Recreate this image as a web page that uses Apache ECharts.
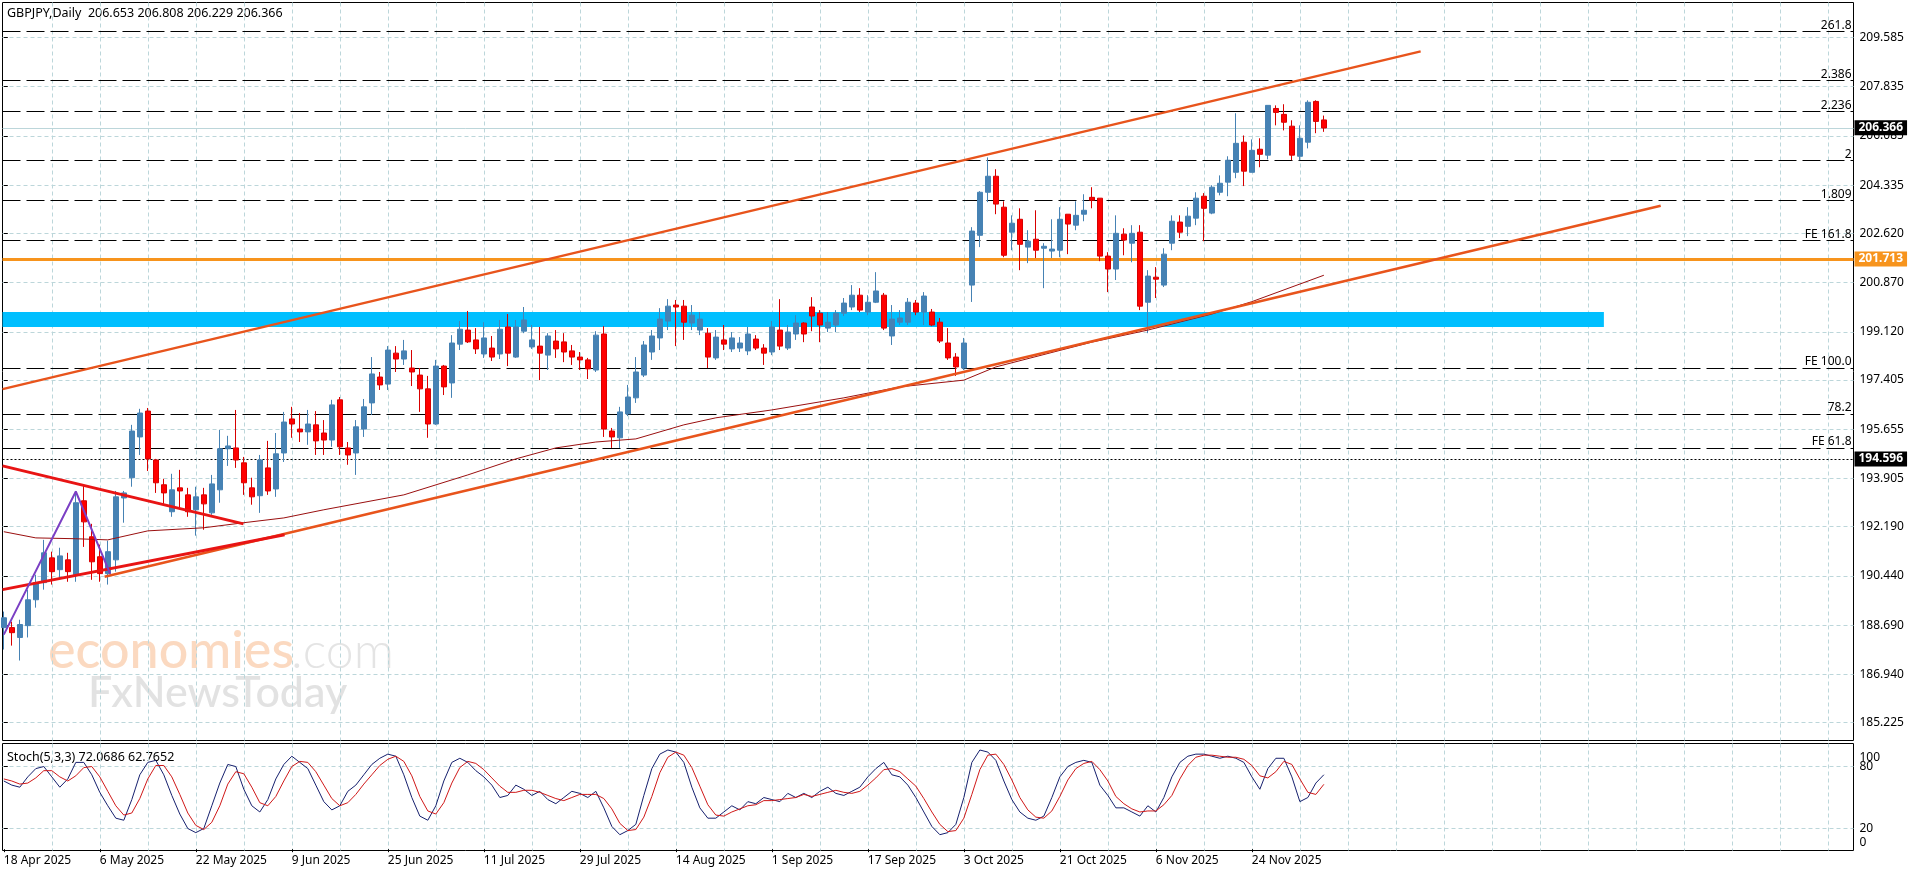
<!doctype html>
<html lang="en">
<head>
    <meta charset="UTF-8">
    <title>GBPJPY,Daily</title>
    <script src="https://cdn.jsdelivr.net/npm/echarts@6/dist/echarts.min.js"></script>
    <style>
        html, body { margin: 0; padding: 0; background: #fff; }
        #chart { width: 1916px; height: 874px; }
    </style>
</head>
<body>
<div id="chart"></div>
<script>
    // bar labels on the time axis, one every 12 bars
    var tickLabels = ['18 Apr 2025', '6 May 2025', '22 May 2025', '9 Jun 2025', '25 Jun 2025', '11 Jul 2025', '29 Jul 2025',
        '14 Aug 2025', '1 Sep 2025', '17 Sep 2025', '3 Oct 2025', '21 Oct 2025', '6 Nov 2025', '24 Nov 2025'];
    var labelBars = [0, 12, 24, 36, 48, 60, 72, 84, 96, 108, 120, 132, 144, 156];
    var gridBars = [6, 12, 18, 24, 30, 36, 42, 48, 54, 60, 66, 72, 78, 84, 90, 96, 102, 108, 114, 120, 126, 132, 138, 144, 150,
        156, 162, 168, 174, 180, 186, 192, 198, 204, 210, 216, 222, 228];

    var priceTicks = [209.585, 207.835, 206.085, 204.335, 202.620, 200.870, 199.120, 197.405, 195.655, 193.905, 192.190, 190.440,
        188.690, 186.940, 185.225];

    var opens = [188.60,188.60,188.25,188.67,189.59,190.20,191.08,190.66,191.01,190.48,
        193.11,191.83,191.12,190.52,191.01,193.21,193.93,195.38,196.30,194.56,
        193.68,192.72,193.57,193.32,192.79,193.32,192.68,193.50,194.96,194.99,
        194.46,193.57,193.29,194.28,193.53,194.81,196.02,195.66,195.56,195.81,
        195.52,195.27,196.70,194.99,194.81,195.66,196.59,197.51,197.26,198.36,
        198.15,197.83,197.58,197.09,195.84,197.90,197.30,198.68,199.18,198.83,
        198.33,198.54,198.33,199.29,198.22,199.14,198.58,198.61,198.29,198.79,
        198.76,198.44,198.22,198.12,197.76,199.04,195.59,195.35,196.20,196.77,
        197.58,198.40,198.90,199.50,200.07,200.03,199.43,199.18,199.07,198.19,
        198.83,198.51,198.54,198.44,198.86,198.54,198.40,199.18,198.54,199.04,
        199.43,200.00,199.78,199.25,199.36,199.78,200.00,200.42,199.82,200.17,
        200.42,198.97,199.46,199.46,200.14,199.82,199.82,199.46,198.72,198.22,
        197.83,200.78,202.55,204.08,204.65,203.55,202.66,203.12,202.13,202.41,
        202.09,201.99,202.02,203.30,202.91,203.30,203.90,203.87,201.81,201.35,
        202.59,202.27,202.66,200.17,201.06,200.78,202.27,203.02,202.87,203.16,
        203.94,203.34,204.08,204.44,204.79,205.86,204.79,205.61,205.40,207.06,
        206.85,206.43,205.36,205.86,207.31,206.653];
    var closes = [188.95,188.42,188.71,189.59,190.20,191.26,190.59,191.15,190.59,193.04,
        192.36,190.94,190.52,191.30,193.25,193.39,195.59,196.23,194.60,193.75,
        193.39,193.50,193.46,192.72,193.25,193.00,193.71,194.96,195.06,194.56,
        193.75,193.25,194.56,193.46,194.78,195.91,195.84,195.56,195.84,195.24,
        195.27,196.52,195.03,194.74,195.74,196.45,197.62,197.23,198.47,198.15,
        198.44,197.69,197.09,195.84,197.90,197.16,198.72,199.21,198.76,198.51,
        198.90,198.22,199.21,198.36,199.29,199.54,198.83,198.36,198.97,198.51,
        198.40,198.22,198.12,197.80,199.00,195.66,195.38,196.27,196.80,197.69,
        198.65,198.97,199.57,200.03,200.00,199.46,199.71,199.57,198.22,198.93,
        198.68,198.90,198.72,199.04,198.54,198.36,199.29,198.61,199.11,199.43,
        199.04,199.68,199.36,199.46,199.78,200.14,200.42,199.89,200.17,200.57,
        199.25,199.57,199.61,200.17,199.82,200.39,199.36,198.79,198.19,197.87,
        198.72,202.70,204.08,204.65,203.66,201.84,202.98,202.23,202.34,202.02,
        202.16,202.06,203.12,202.95,203.26,203.44,203.80,201.81,201.35,202.62,
        202.38,202.62,200.03,201.10,200.99,201.88,203.05,202.66,203.23,203.87,
        203.51,204.26,204.40,205.22,205.82,204.83,205.57,205.43,207.17,206.92,
        206.57,205.40,206.00,207.28,206.60,206.366];
    var lows = [187.82,187.96,187.43,188.25,189.31,189.95,190.13,190.37,190.23,190.23,
        191.47,190.30,190.23,190.13,190.59,192.33,193.61,194.74,194.17,193.39,
        192.97,192.54,192.86,192.54,191.87,192.08,192.61,193.04,194.35,194.28,
        193.32,192.97,192.68,193.32,193.25,194.49,195.35,195.20,195.10,194.74,
        194.74,195.03,194.74,194.39,194.03,195.38,196.16,197.05,197.05,197.69,
        197.94,197.19,196.27,195.35,195.81,196.87,196.77,198.47,198.72,198.33,
        198.19,198.08,198.15,197.90,198.19,199.07,198.51,197.40,197.76,198.19,
        198.04,197.94,197.76,197.44,197.69,195.38,194.99,194.99,196.12,196.59,
        197.51,198.12,198.47,199.18,198.61,198.83,199.18,199.00,197.83,198.12,
        198.47,198.40,198.40,198.29,198.47,197.94,198.29,198.47,198.47,198.83,
        198.75,199.14,198.75,199.11,199.11,199.68,199.89,199.82,199.71,200.14,
        199.18,198.65,199.36,199.36,199.71,199.36,199.32,198.72,198.12,197.55,
        197.76,200.18,202.13,203.73,203.30,201.77,202.02,201.31,201.56,201.74,
        200.67,201.74,201.77,201.88,202.73,203.05,203.51,201.63,200.53,200.96,
        201.84,201.59,199.89,199.07,200.32,200.71,202.02,202.45,202.52,202.91,
        202.34,203.30,203.97,203.94,204.58,204.30,204.79,204.97,205.25,206.46,
        206.28,205.22,205.22,205.64,206.18,206.229];
    var highs = [189.17,188.81,188.88,189.95,190.48,191.72,191.30,191.44,191.26,193.46,
        193.64,192.29,191.55,191.69,193.46,193.46,195.81,196.38,196.41,194.60,
        193.89,194.07,194.21,193.57,193.61,193.57,194.03,195.63,195.42,196.34,
        194.67,193.93,194.74,195.24,195.52,196.27,196.45,196.23,196.34,196.30,
        195.98,196.70,196.80,195.20,195.98,196.73,198.22,197.69,198.61,198.61,
        198.83,198.47,197.83,197.55,198.12,197.94,199.00,199.50,199.86,199.25,
        199.46,198.97,199.54,199.75,199.54,200.00,199.36,199.29,199.07,199.18,
        199.07,198.65,198.40,198.19,199.14,199.32,195.70,196.45,197.23,198.22,
        198.79,199.18,199.96,200.28,200.25,200.25,200.07,199.82,199.25,199.18,
        199.36,199.11,198.93,199.29,199.00,198.68,199.50,200.28,199.36,199.71,
        199.46,200.35,199.89,199.82,199.89,200.32,200.78,200.67,200.42,201.24,
        200.50,200.07,199.89,200.32,200.25,200.53,199.93,199.61,199.25,198.36,
        198.90,202.84,204.12,205.32,204.90,203.76,203.26,203.51,202.73,203.44,
        202.27,203.12,203.55,203.30,203.76,204.01,204.26,203.87,201.95,203.26,
        202.80,202.91,202.91,201.31,201.42,202.09,203.26,203.26,203.55,204.08,
        204.05,204.33,204.68,205.36,206.89,206.10,205.96,206.00,207.17,207.17,
        207.21,206.64,206.46,207.35,207.35,206.808];

    // moving average, read at a few bars along the curve
    var maBars = [0,4,9,13,18,25,30,35,40,50,58,64,69,74,79,85,89,96,105,112,120,124,136,143,151,156,165];
    var maValues = [192.01,191.79,191.76,191.72,192.04,192.15,192.33,192.50,192.79,193.32,194.03,194.60,194.99,195.20,195.31,
        195.81,196.06,196.34,196.77,197.16,197.40,197.87,198.75,199.18,199.75,200.19,201.13];

    var stochMain = [66,62,60,70,78,80,70,60,68,84,84,72,55,42,30,28,48,72,84,86,
        72,52,34,20,16,20,42,64,82,80,58,42,36,48,68,82,90,84,78,62,
        46,38,42,56,62,72,82,88,92,90,72,50,32,28,42,66,84,88,84,76,
        70,62,50,52,62,58,52,56,48,44,50,56,54,50,56,40,22,14,18,24,
        52,78,92,96,94,84,60,40,30,30,36,42,38,46,44,50,48,46,54,50,
        54,50,56,60,54,52,56,60,70,78,84,72,70,62,50,36,22,14,16,24,
        50,84,96,94,86,66,48,36,30,28,32,50,70,80,84,86,84,62,52,40,
        40,36,32,42,36,50,70,84,90,92,92,90,88,90,88,84,70,58,78,88,
        88,70,46,50,64,72.0686];
    var stochSignal = [68,66,63,64,69,76,76,70,66,71,79,80,70,56,42,33,35,49,68,81,
        81,70,53,35,23,19,26,42,63,75,73,60,45,42,51,66,80,85,84,75,
        62,49,42,45,53,63,72,81,87,90,85,71,51,37,34,45,64,79,85,83,
        77,69,61,55,55,57,57,55,52,49,47,50,53,53,53,49,39,25,18,19,
        31,51,74,89,94,91,79,61,43,33,32,36,39,42,43,47,47,48,49,50,
        53,51,53,55,57,55,54,56,62,69,77,78,75,68,61,49,36,24,17,18,
        30,53,77,91,92,82,67,50,38,31,30,37,51,67,78,83,85,77,66,51,
        44,39,36,37,37,43,52,68,81,89,91,91,90,89,89,87,81,71,69,75,
        85,82,68,55,53,62.7652];
    var stochEnds = [100, 0];
    var stochLevels = [80, 20];

    // fibonacci levels
    var levelPrices = [209.80, 208.06, 206.96, 205.22, 203.80, 202.38, 197.83, 196.20, 194.99];
    var levelNames = ['261.8', '2.386', '2.236', '2', '1.809', 'FE 161.8', 'FE 100.0', '78.2', 'FE 61.8'];

    var lastPrice = 206.366;
    var supportPrice = 201.713;
    var dottedPrice = 194.596;

    var bandBars = [-0.16, 200];
    var bandPrices = [199.82, 199.29];

    // drawn trend lines: [bar, price] ends
    var channelUpper = [[-0.16, 197.08], [177.1, 209.09]];
    var channelLower = [[12.6, 190.41], [207.1, 203.60]];
    var wedgeUpper = [[-0.16, 194.35], [29.96, 192.29]];
    var wedgeLower = [[-0.16, 189.95], [35.1, 191.90]];
    var zigzag = [[0, 188.35], [9, 193.44], [13.3, 190.51]];

    var candles = opens.map(function (o, i) {
        return [i, o, closes[i], lows[i], highs[i]];
    });
    var maLine = maBars.map(function (b, i) { return [b, maValues[i]]; });
    var mainLine = stochMain.map(function (v, i) { return [i, v]; });
    var signalLine = stochSignal.map(function (v, i) { return [i, v]; });

    var FONT = '"Noto Sans", sans-serif';
    var GRID_COLOR = '#bcd6da';
    var GRID_DASH = [4, 3];
    var BAR_MIN = -0.1625, BAR_MAX = 231.2;

    function trendLine(data, color, width) {
        return {
            type: 'line', data: data, showSymbol: false, silent: true, z: 6,
            lineStyle: { color: color, width: width }
        };
    }

    var levelLines = levelPrices.map(function (p, i) {
        return {
            yAxis: p,
            lineStyle: { color: '#000', width: 1, type: [18, 6] },
            label: {
                show: true, position: 'insideEndTop', distance: [2, 0], formatter: levelNames[i],
                color: '#000', fontFamily: FONT, fontSize: 12
            }
        };
    });

    function flag(price, text, lineStyle, bg) {
        return {
            yAxis: price,
            lineStyle: lineStyle,
            label: {
                show: true, position: 'end', distance: 1, formatter: text,
                color: '#fff', backgroundColor: bg, padding: [2, 4, 1, 4],
                fontFamily: FONT, fontSize: 12, fontWeight: 'bold'
            }
        };
    }

    var chart = echarts.init(document.getElementById('chart'));
    chart.setOption({
        animation: false,
        backgroundColor: '#fff',
        textStyle: { fontFamily: FONT },
        grid: [
            { left: 2.5, top: 2.5, width: 1851, height: 738, show: true, borderColor: '#000', borderWidth: 1, backgroundColor: 'transparent' },
            { left: 2.5, top: 743.5, width: 1851, height: 107, show: true, borderColor: '#000', borderWidth: 1, backgroundColor: 'transparent' }
        ],
        xAxis: [{
            type: 'value', gridIndex: 0, min: BAR_MIN, max: BAR_MAX,
            axisLine: { show: false }, axisTick: { show: false, customValues: gridBars }, axisLabel: { show: false },
            splitLine: { show: true, lineStyle: { color: GRID_COLOR, type: GRID_DASH, width: 1 } }
        }, {
            type: 'value', gridIndex: 1, min: BAR_MIN, max: BAR_MAX,
            axisLine: { show: false },
            axisTick: { show: false, customValues: gridBars },
            axisLabel: {
                show: true, customValues: labelBars, margin: 4, align: 'left', color: '#000',
                fontFamily: FONT, fontSize: 12,
                formatter: function (v) { return tickLabels[Math.round(v / 12)]; }
            },
            splitLine: { show: true, lineStyle: { color: GRID_COLOR, type: GRID_DASH, width: 1 } }
        }, {
            // short marks under the date labels only
            type: 'value', gridIndex: 1, position: 'bottom', min: BAR_MIN, max: BAR_MAX,
            axisLine: { show: false },
            axisTick: { show: true, length: 3, customValues: labelBars, lineStyle: { color: '#000' } },
            axisLabel: { show: false },
            splitLine: { show: false }
        }],
        yAxis: [{
            type: 'value', gridIndex: 0, position: 'right', min: 184.586, max: 210.828,
            axisLine: { show: false },
            axisTick: { show: true, length: 4, customValues: priceTicks, lineStyle: { color: '#000' } },
            axisLabel: {
                show: true, customValues: priceTicks, margin: 6, color: '#000', fontFamily: FONT, fontSize: 12,
                formatter: function (v) { return v.toFixed(3); }
            },
            splitLine: { show: true, lineStyle: { color: GRID_COLOR, type: GRID_DASH, width: 1 } }
        }, {
            type: 'value', gridIndex: 1, position: 'right', min: -1.3, max: 102.3,
            axisLine: { show: false },
            axisTick: { show: true, length: 4, customValues: stochLevels, lineStyle: { color: '#000' } },
            axisLabel: {
                show: true, customValues: stochLevels, margin: 6, color: '#000', fontFamily: FONT, fontSize: 12
            },
            splitLine: { show: true, lineStyle: { color: GRID_COLOR, type: GRID_DASH, width: 1 } }
        }, {
            // 100 and 0 sit pushed inside the pane, on their own axis so they do not hide 80 and 20
            type: 'value', gridIndex: 1, position: 'right', min: -1.3, max: 102.3,
            axisLine: { show: false },
            axisTick: { show: false, customValues: stochEnds },
            axisLabel: {
                show: true, customValues: stochEnds, margin: 6, color: '#000', fontFamily: FONT, fontSize: 12,
                formatter: function (v) { return v === 100 ? '{top|100}' : '{bot|0}'; },
                rich: {
                    top: { padding: [24, 0, 0, 0], fontFamily: FONT, fontSize: 12 },
                    bot: { padding: [0, 0, 14, 0], fontFamily: FONT, fontSize: 12 }
                }
            },
            splitLine: { show: false }
        }],
        graphic: [
            { type: 'text', silent: true, z: 0, left: 7, top: 7, style: { text: 'GBPJPY,Daily  206.653 206.808 206.229 206.366', fill: '#000', font: '12.5px ' + FONT } },
            { type: 'text', silent: true, z: 0, left: 7, top: 751, style: { text: 'Stoch(5,3,3) 72.0686 62.7652', fill: '#000', font: '12.5px ' + FONT } },
            { type: 'text', silent: true, z: 0, left: 48, top: 625, style: { text: 'economies', fill: '#fbd9c0', font: '500 52px Lato, ' + FONT } },
            { type: 'text', silent: true, z: 0, left: 291, top: 627, style: { text: '.com', fill: '#e4e4e4', font: '300 50px Lato, ' + FONT } },
            { type: 'text', silent: true, z: 0, left: 88, top: 672, style: { text: 'FxNewsToday', fill: '#e2e2e2', font: '500 43px Lato, ' + FONT } }
        ],
        series: [{
            // support band, sits under the candles
            type: 'line', data: [], silent: true, z: 1,
            markArea: {
                silent: true, z: 1,
                itemStyle: { color: '#00bfff', opacity: 1 },
                data: [[{ coord: [bandBars[0], bandPrices[0]] }, { coord: [bandBars[1], bandPrices[1]] }]]
            }
        }, {
            type: 'line', data: [], silent: true, z: 2,
            markLine: {
                silent: true, symbol: 'none', animation: false,
                data: levelLines.concat([
                    flag(lastPrice, lastPrice.toFixed(3), { color: '#bcd6da', width: 1, type: 'solid' }, '#000'),
                    flag(dottedPrice, dottedPrice.toFixed(3), { color: '#000', width: 1, type: [2, 2] }, '#000')
                ])
            }
        }, {
            type: 'candlestick', data: candles, barWidth: 5, silent: true, z: 5,
            encode: { x: 0, y: [1, 2, 3, 4] },
            itemStyle: { color: '#4682b4', color0: '#ff0000', borderColor: '#4682b4', borderColor0: '#d80000', borderWidth: 1 }
        }, {
            type: 'line', data: [], silent: true, z: 5,
            markLine: {
                silent: true, symbol: 'none', animation: false,
                data: [flag(supportPrice, supportPrice.toFixed(3), { color: '#f7941d', width: 3, type: 'solid' }, '#f7941d')]
            }
        },
        {
            type: 'line', data: maLine, showSymbol: false, silent: true, z: 6,
            lineStyle: { color: '#9a0f0f', width: 1 }
        },
        trendLine(channelUpper, '#e8541c', 2.5),
        trendLine(channelLower, '#e8541c', 2.5),
        trendLine(wedgeUpper, '#e81414', 3),
        trendLine(wedgeLower, '#e81414', 3),
        trendLine(zigzag, '#7b3fc4', 2),
        {
            type: 'line', data: mainLine, xAxisIndex: 1, yAxisIndex: 1, showSymbol: false, silent: true, z: 6,
            lineStyle: { color: '#16206e', width: 1 }
        }, {
            type: 'line', data: signalLine, xAxisIndex: 1, yAxisIndex: 1, showSymbol: false, silent: true, z: 6,
            lineStyle: { color: '#d01818', width: 1 }
        }]
    });
</script>
</body>
</html>
